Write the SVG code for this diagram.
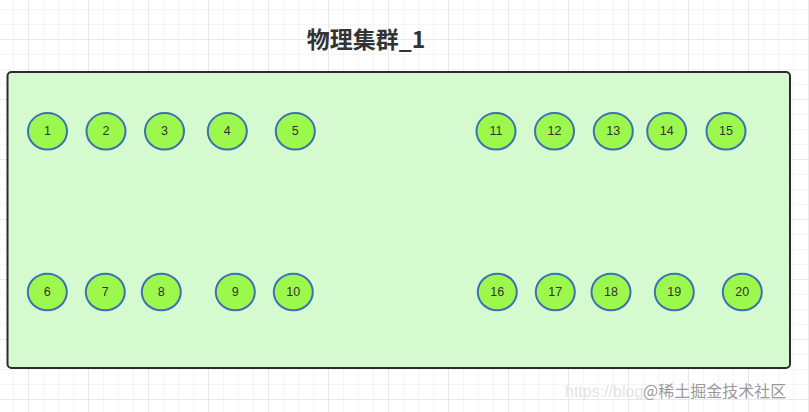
<svg xmlns="http://www.w3.org/2000/svg" width="809" height="412" viewBox="0 0 809 412">
<defs>
<pattern id="minor" x="13" y="9" width="15" height="15" patternUnits="userSpaceOnUse">
<path d="M0 0H15M0 0V15" fill="none" stroke="#ebebeb" stroke-width="1"/>
</pattern>
<pattern id="major" x="28" y="39" width="60" height="60" patternUnits="userSpaceOnUse">
<path d="M0 0H60M0 0V60" fill="none" stroke="#dedede" stroke-width="1"/>
</pattern>
</defs>
<style>
.node ellipse{fill:#9cf84c;stroke:#3d6fb5;stroke-width:2}
.node text{font-family:"Liberation Sans","Noto Sans",sans-serif;font-size:12.5px;fill:#333;text-anchor:middle;dominant-baseline:central}
.title{font-family:"Noto Sans CJK SC","Liberation Sans",sans-serif;font-size:23px;font-weight:bold;fill:#333;text-anchor:middle}
.wm{font-family:"Noto Sans CJK SC","Liberation Sans",sans-serif;font-size:16px;fill:#9a9a9a}
</style>
<rect width="809" height="412" fill="#ffffff"/>
<rect width="809" height="412" fill="url(#minor)"/>
<rect width="809" height="412" fill="url(#major)"/>
<text class="title" x="366" y="48">物理集群_1</text>
<g id="cluster">
<rect x="7.5" y="72" width="782.5" height="296" rx="4" fill="#d5fad0" stroke="#2b2b2b" stroke-width="2"/>
</g>
<g id="connectors"></g>
<g id="n1" class="node"><ellipse cx="47.5" cy="131.3" rx="19.5" ry="18.3"/><text x="47.5" y="131.3">1</text></g>
<g id="n2" class="node"><ellipse cx="106" cy="131.3" rx="19.5" ry="18.3"/><text x="106" y="131.3">2</text></g>
<g id="n3" class="node"><ellipse cx="164.5" cy="131.3" rx="19.5" ry="18.3"/><text x="164.5" y="131.3">3</text></g>
<g id="n4" class="node"><ellipse cx="227.3" cy="131.3" rx="19.5" ry="18.3"/><text x="227.3" y="131.3">4</text></g>
<g id="n5" class="node"><ellipse cx="295.3" cy="131.3" rx="19.5" ry="18.3"/><text x="295.3" y="131.3">5</text></g>
<g id="n11" class="node"><ellipse cx="496" cy="131.3" rx="19.5" ry="18.3"/><text x="496" y="131.3">11</text></g>
<g id="n12" class="node"><ellipse cx="554.5" cy="131.3" rx="19.5" ry="18.3"/><text x="554.5" y="131.3">12</text></g>
<g id="n13" class="node"><ellipse cx="613.3" cy="131.3" rx="19.5" ry="18.3"/><text x="613.3" y="131.3">13</text></g>
<g id="n14" class="node"><ellipse cx="666.7" cy="131.3" rx="19.5" ry="18.3"/><text x="666.7" y="131.3">14</text></g>
<g id="n15" class="node"><ellipse cx="726" cy="131.3" rx="19.5" ry="18.3"/><text x="726" y="131.3">15</text></g>
<g id="n6" class="node"><ellipse cx="47.3" cy="292" rx="19.5" ry="18.3"/><text x="47.3" y="292">6</text></g>
<g id="n7" class="node"><ellipse cx="105.3" cy="292" rx="19.5" ry="18.3"/><text x="105.3" y="292">7</text></g>
<g id="n8" class="node"><ellipse cx="161.3" cy="292" rx="19.5" ry="18.3"/><text x="161.3" y="292">8</text></g>
<g id="n9" class="node"><ellipse cx="235.3" cy="292" rx="19.5" ry="18.3"/><text x="235.3" y="292">9</text></g>
<g id="n10" class="node"><ellipse cx="293.3" cy="292" rx="19.5" ry="18.3"/><text x="293.3" y="292">10</text></g>
<g id="n16" class="node"><ellipse cx="497.3" cy="292" rx="19.5" ry="18.3"/><text x="497.3" y="292">16</text></g>
<g id="n17" class="node"><ellipse cx="555.3" cy="292" rx="19.5" ry="18.3"/><text x="555.3" y="292">17</text></g>
<g id="n18" class="node"><ellipse cx="611" cy="292" rx="19.5" ry="18.3"/><text x="611" y="292">18</text></g>
<g id="n19" class="node"><ellipse cx="674.3" cy="292" rx="19.5" ry="18.3"/><text x="674.3" y="292">19</text></g>
<g id="n20" class="node"><ellipse cx="742.3" cy="292" rx="19.5" ry="18.3"/><text x="742.3" y="292">20</text></g>
<text x="565" y="397" font-family="Liberation Sans, sans-serif" font-size="16" fill="#e4e4e4">https://blog</text>
<text class="wm" x="643" y="397">@稀土掘金技术社区</text>
</svg>
